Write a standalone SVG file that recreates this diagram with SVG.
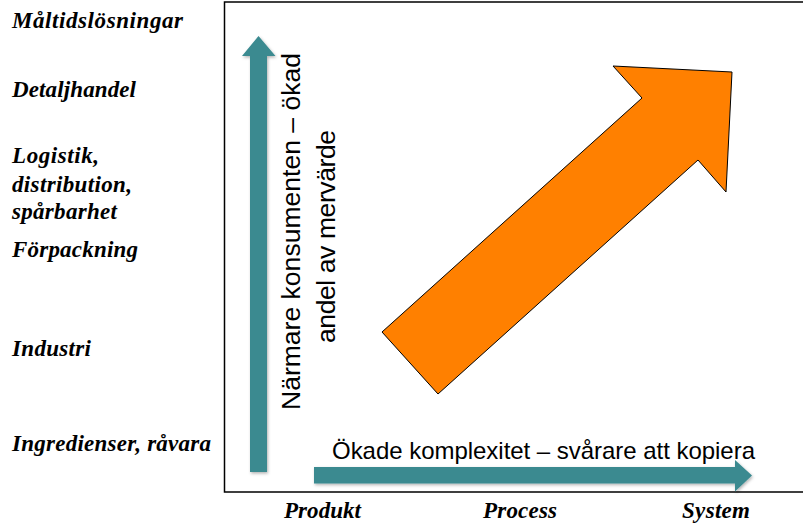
<svg xmlns="http://www.w3.org/2000/svg" width="803" height="529" viewBox="0 0 803 529">
  <style>
    .lbl { font-family: "Liberation Serif", "Times New Roman", serif; font-weight: bold; font-style: italic; font-size: 23px; fill: #000; }
    .axis { font-family: "Liberation Sans", Arial, sans-serif; fill: #000; }
    .teal { fill: #3a8a90; filter: url(#sh); }
    .big { fill: #ff8000; stroke: #000; stroke-width: 1; stroke-linejoin: miter; }
  </style>
  <defs>
    <filter id="sh" x="-20%" y="-20%" width="140%" height="140%">
      <feDropShadow dx="1" dy="1.5" stdDeviation="1.5" flood-color="#000" flood-opacity="0.3"/>
    </filter>
  </defs>
  <rect width="803" height="529" fill="#fff"/>

  <g id="frame">
    <path d="M 805 2 H 224.5 V 492 H 805" fill="none" stroke="#000" stroke-width="1.5"/>
  </g>

  <g id="row-labels">
    <text class="lbl" x="12" y="28" textLength="171" lengthAdjust="spacing">Måltidslösningar</text>
    <text class="lbl" x="12" y="97" textLength="124" lengthAdjust="spacing">Detaljhandel</text>
    <text class="lbl" x="12" y="163" textLength="87" lengthAdjust="spacing">Logistik,</text>
    <text class="lbl" x="12" y="192" textLength="120" lengthAdjust="spacing">distribution,</text>
    <text class="lbl" x="12" y="219" textLength="105" lengthAdjust="spacing">spårbarhet</text>
    <text class="lbl" x="12" y="257" textLength="126" lengthAdjust="spacing">Förpackning</text>
    <text class="lbl" x="12" y="356" textLength="79" lengthAdjust="spacing">Industri</text>
    <text class="lbl" x="12" y="451" textLength="199" lengthAdjust="spacing">Ingredienser, råvara</text>
  </g>

  <g id="column-labels">
    <text class="lbl" x="284" y="518" textLength="77" lengthAdjust="spacing">Produkt</text>
    <text class="lbl" x="483" y="518" textLength="74" lengthAdjust="spacing">Process</text>
    <text class="lbl" x="682" y="518" textLength="68" lengthAdjust="spacing">System</text>
  </g>

  <g id="connectors">
    <g id="vertical-arrow">
      <polygon class="teal" points="250,472 267,472 267,56 275.5,56 258.5,36 242,56 250,56"/>
    </g>
    <g id="horizontal-arrow">
      <polygon class="teal" points="314,467 735,467 735,460 752,475.5 735,491.5 735,483.5 314,483.5"/>
    </g>
    <g id="diagonal-arrow">
      <polygon class="big" points="382,332 642,98 613,66 732,72 726,192 698,160 438,394"/>
    </g>
  </g>

  <g id="vertical-label">
    <text class="axis" font-size="26.5" text-anchor="middle" transform="translate(300,231.5) rotate(-90)" textLength="357" lengthAdjust="spacing">Närmare konsumenten – ökad</text>
    <text class="axis" font-size="26.5" text-anchor="middle" transform="translate(335,236.5) rotate(-90)" textLength="213" lengthAdjust="spacing">andel av mervärde</text>
  </g>

  <g id="horizontal-label">
    <text class="axis" font-size="24" x="332" y="459" textLength="423" lengthAdjust="spacing">Ökade komplexitet – svårare att kopiera</text>
  </g>
</svg>
